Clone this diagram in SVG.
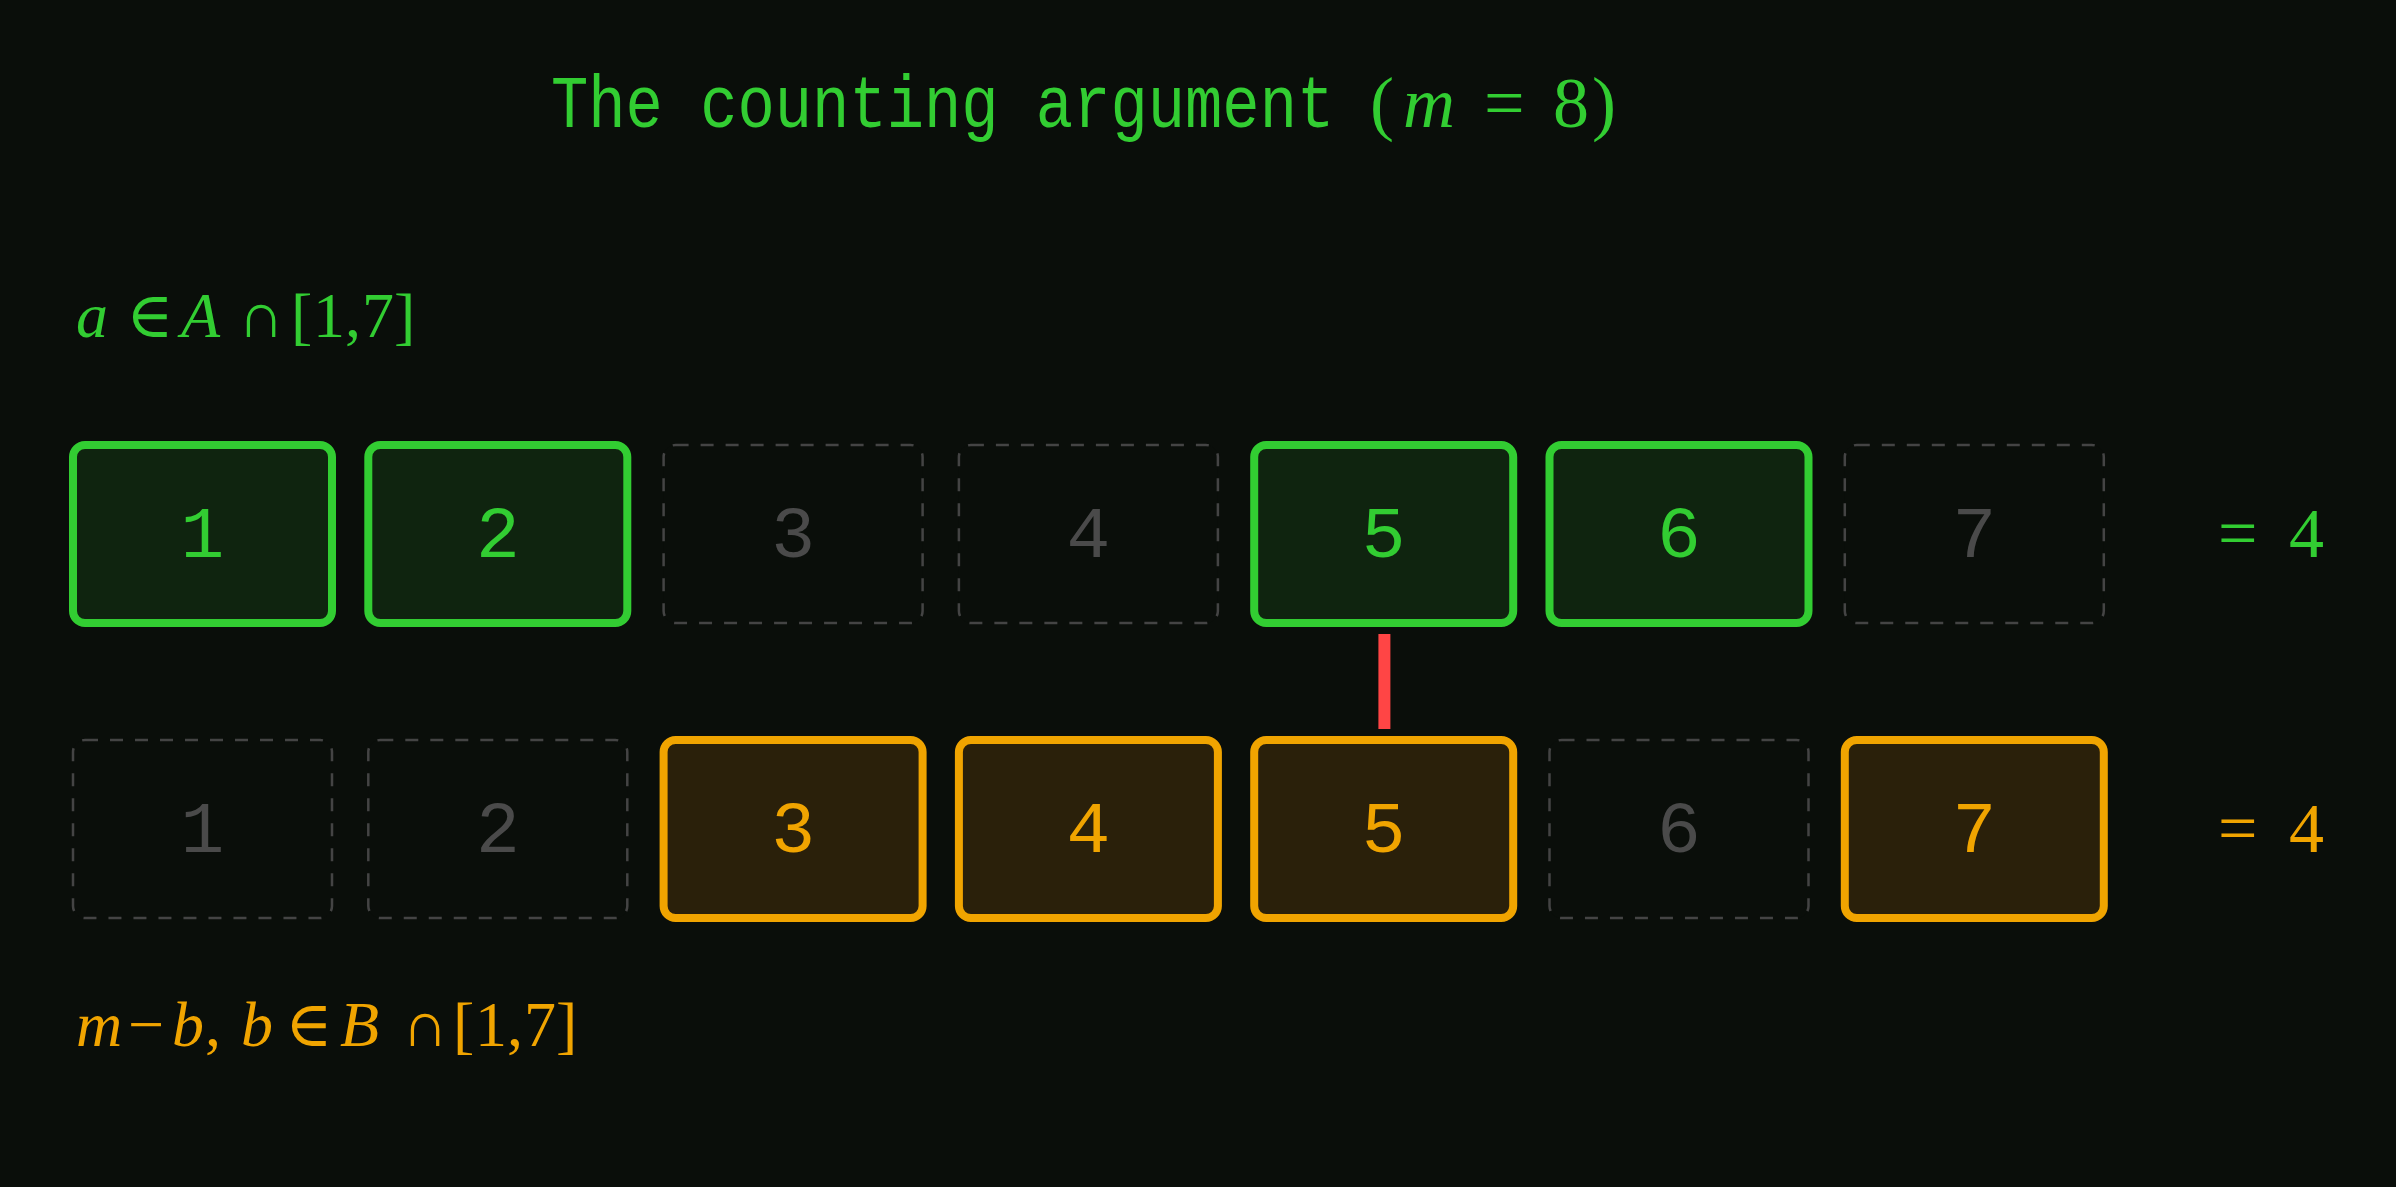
<svg xmlns="http://www.w3.org/2000/svg" width="2396" height="1187" viewBox="0 0 2396 1187">
<style>
.bg{fill:#0a0e0a}
.g{fill:#0f240f;stroke:#32cd32;stroke-width:8}
.o{fill:#2a200a;stroke:#f0a400;stroke-width:8}
.d{fill:#0a0e0a;stroke:#444444;stroke-width:2.5;stroke-dasharray:13 12}
.num{font-family:"Liberation Mono","Courier New",monospace;font-size:73px;text-anchor:middle}
.tg{fill:#32cd32}
.to{fill:#f0a400}
.tx{fill:#4a4a4a}
.math{font-family:"Liberation Serif","DejaVu Serif",serif}
.it{font-style:italic}
</style>
<rect class="bg" x="0" y="0" width="2396" height="1187"/>
<g id="title">
<text x="0" y="0" transform="translate(551,127) scale(0.84,1)" class="tg" font-family="Liberation Mono, Courier New, monospace" font-size="74">The counting argument</text>
<text y="127" class="tg math" font-size="72"><tspan x="1370">(</tspan><tspan x="1403" class="it">m</tspan><tspan x="1484">=</tspan><tspan x="1553">8</tspan><tspan x="1592">)</tspan></text>
</g>
<g id="labelA">
<text y="337" class="tg math" font-size="64"><tspan x="76" class="it">a</tspan><tspan x="126">∈</tspan><tspan x="181" class="it">A</tspan><tspan x="238">∩</tspan><tspan x="291">[</tspan><tspan x="313">1</tspan><tspan x="345">,</tspan><tspan x="362">7</tspan><tspan x="394">]</tspan></text>
</g>
<g id="labelB">
<text y="1046" class="to math" font-size="64"><tspan x="76" class="it">m</tspan><tspan x="128">−</tspan><tspan x="172" class="it">b</tspan><tspan x="205">,</tspan><tspan x="241" class="it">b</tspan><tspan x="285">∈</tspan><tspan x="340" class="it">B</tspan><tspan x="402">∩</tspan><tspan x="453">[</tspan><tspan x="475">1</tspan><tspan x="507">,</tspan><tspan x="524">7</tspan><tspan x="556">]</tspan></text>
</g>
<g id="a1"><rect class="g" x="73" y="445" width="259" height="178" rx="12"/><text class="num tg" x="202.5" y="557">1</text></g>
<g id="a2"><rect class="g" x="368.3" y="445" width="259" height="178" rx="12"/><text class="num tg" x="497.8" y="557">2</text></g>
<g id="a3"><rect class="d" x="663.6" y="445" width="259" height="178" rx="12"/><text class="num tx" x="793.1" y="557">3</text></g>
<g id="a4"><rect class="d" x="958.9" y="445" width="259" height="178" rx="12"/><text class="num tx" x="1088.4" y="557">4</text></g>
<g id="a5"><rect class="g" x="1254.2" y="445" width="259" height="178" rx="12"/><text class="num tg" x="1383.7" y="557">5</text></g>
<g id="a6"><rect class="g" x="1549.5" y="445" width="259" height="178" rx="12"/><text class="num tg" x="1679" y="557">6</text></g>
<g id="a7"><rect class="d" x="1844.8" y="445" width="259" height="178" rx="12"/><text class="num tx" x="1974.3" y="557">7</text></g>
<g id="countA"><text y="557" class="tg math" font-size="70"><tspan x="2218">=</tspan><tspan x="2289">4</tspan></text></g>
<g id="b1"><rect class="d" x="73" y="740" width="259" height="178" rx="12"/><text class="num tx" x="202.5" y="852">1</text></g>
<g id="b2"><rect class="d" x="368.3" y="740" width="259" height="178" rx="12"/><text class="num tx" x="497.8" y="852">2</text></g>
<g id="b3"><rect class="o" x="663.6" y="740" width="259" height="178" rx="12"/><text class="num to" x="793.1" y="852">3</text></g>
<g id="b4"><rect class="o" x="958.9" y="740" width="259" height="178" rx="12"/><text class="num to" x="1088.4" y="852">4</text></g>
<g id="b5"><rect class="o" x="1254.2" y="740" width="259" height="178" rx="12"/><text class="num to" x="1383.7" y="852">5</text></g>
<g id="b6"><rect class="d" x="1549.5" y="740" width="259" height="178" rx="12"/><text class="num tx" x="1679" y="852">6</text></g>
<g id="b7"><rect class="o" x="1844.8" y="740" width="259" height="178" rx="12"/><text class="num to" x="1974.3" y="852">7</text></g>
<g id="countB"><text y="852" class="to math" font-size="70"><tspan x="2218">=</tspan><tspan x="2289">4</tspan></text></g>
<g id="connectors">
<line x1="1384.4" y1="634" x2="1384.4" y2="729" stroke="#ff4545" stroke-width="12"/>
</g>
</svg>
